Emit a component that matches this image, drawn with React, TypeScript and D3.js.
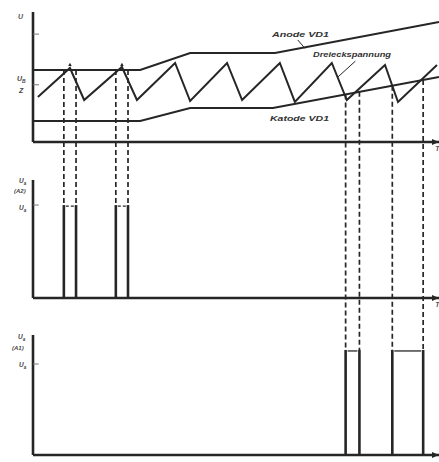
import React from "react";
import * as d3 from "d3";

// time in arbitrary units 0..100, voltage in arbitrary units 0..10
const waveT = [1.2, 9.1, 12.6, 21.9, 25.6, 35.0, 38.7, 47.8, 51.5, 60.8, 64.5, 73.6, 77.3, 86.7, 89.9, 99.5];
const waveU = [3.46, 5.69, 3.23, 5.77, 3.23, 6.08, 3.15, 6.08, 3.23, 6.08, 3.08, 6.08, 3.23, 5.92, 3.08, 5.92];

const anodeT = [0, 26.4, 38.7, 59.6, 100];
const anodeU = [5.54, 5.54, 6.85, 6.85, 9.23];
const cathodeT = [0, 26.4, 38.7, 59.1, 100];
const cathodeU = [1.62, 1.62, 2.62, 2.62, 5.0];

// pulse edges (A2) and (A1)
const pulsesA2 = [[7.6, 10.6], [20.4, 23.4]];
const pulsesA1 = [[77.0, 80.4], [88.5, 96.1]];
const pulseHighA2 = 7.15;
const pulseHighA1 = 8.08;

const W = 439, H = 462;
const INK = "#262626";

export default function App() {
  const x = d3.scaleLinear().domain([0, 100]).range([33, 439]);
  const yTop = d3.scaleLinear().domain([0, 10]).range([142, 12]);
  const yA2 = d3.scaleLinear().domain([0, 10]).range([298, 168]);
  const yA1 = d3.scaleLinear().domain([0, 10]).range([455, 325]);

  const line = d3.line<[number, number]>().x(d => x(d[0])).y(d => yTop(d[1]));
  const wave = line(waveT.map((t, i) => [t, waveU[i]] as [number, number]));
  const anode = line(anodeT.map((t, i) => [t, anodeU[i]] as [number, number]));
  const cathode = line(cathodeT.map((t, i) => [t, cathodeU[i]] as [number, number]));
  const anodeAt = d3.scaleLinear().domain(anodeT).range(anodeU);
  const cathodeAt = d3.scaleLinear().domain(cathodeT).range(cathodeU);

  const font = { fontFamily: "Liberation Sans, Arial, sans-serif", fontStyle: "italic" as const, fontWeight: 700 as const };

  const axis = (ys: d3.ScaleLinear<number, number>, top: number, key: string, label: boolean) => (
    <g key={key}>
      <line x1={x(0)} x2={x(0)} y1={ys(top)} y2={ys(0)} stroke={INK} strokeWidth={2.6} />
      <line x1={x(0)} x2={x(100)} y1={ys(0)} y2={ys(0)} stroke={INK} strokeWidth={2.3} />
      <path d={`M${x(100) - 7},${ys(0) - 3}L${x(100)},${ys(0)}L${x(100) - 7},${ys(0) + 3}Z`} fill={INK} />
      {label && <text x={x(99.1)} y={ys(0) + 9} fontSize={7} fill="#555" style={font}>T</text>}
    </g>
  );

  const pulsePanel = (pulses: number[][], ys: d3.ScaleLinear<number, number>, high: number, solidTop: boolean, key: string) => (
    <g key={key}>
      {pulses.map((p, i) => (
        <g key={i}>
          {p.map((t, j) => (
            <line key={j} x1={x(t)} x2={x(t)} y1={ys(high)} y2={ys(0)} stroke={INK} strokeWidth={2.6} />
          ))}
          <line x1={x(p[0]) + 2} x2={x(p[1]) - 2} y1={ys(high) + 1} y2={ys(high) + 1} stroke={INK}
            strokeWidth={1.3} strokeDasharray={solidTop ? undefined : "3,2"} />
        </g>
      ))}
    </g>
  );

  return (
    <svg width={W} height={H} style={{ position: "absolute", left: 0, top: 0, background: "#fff" }}>
      <rect width={W} height={H} fill="#fff" />
      {/* dashed projection lines */}
      {pulsesA2.flat().map((t, i) => (
        <line key={"da" + i} x1={x(t)} x2={x(t)} y1={yTop(anodeAt(t))} y2={yA2(pulseHighA2)}
          stroke={INK} strokeWidth={1.7} strokeDasharray="5,3" />
      ))}
      {pulsesA1.flat().map((t, i) => (
        <line key={"dc" + i} x1={x(t)} x2={x(t)} y1={yTop(cathodeAt(t))} y2={yA1(pulseHighA1)}
          stroke={INK} strokeWidth={1.7} strokeDasharray="5,3" />
      ))}

      {/* top panel */}
      {axis(yTop, 10, "ax1", true)}
      <path d={anode ?? ""} fill="none" stroke={INK} strokeWidth={2.1} />
      <path d={cathode ?? ""} fill="none" stroke={INK} strokeWidth={2.1} />
      <path d={wave ?? ""} fill="none" stroke={INK} strokeWidth={2} strokeLinejoin="miter" />
      <line x1={x(0)} x2={x(1.5)} y1={yTop(8.3)} y2={yTop(8.3)} stroke="#777" strokeWidth={1} />
      <line x1={x(0)} x2={x(1.5)} y1={yTop(4.4)} y2={yTop(4.4)} stroke="#777" strokeWidth={1} />
      {[waveT[1], waveT[3]].map((t, i) => (
        <path key={i} d={`M${x(t) - 1.8},${yTop(5.85)}L${x(t)},${yTop(6.1)}L${x(t) + 1.8},${yTop(5.85)}Z`} fill={INK} />
      ))}
      <text x={18} y={19} fontSize={7} fill="#555" style={font}>U</text>
      <text x={17} y={81} fontSize={7} fill="#444" style={font}>U<tspan fontSize={5} dy={1.5}>B</tspan></text>
      <text x={19} y={93} fontSize={7} fill="#444" style={font}>Z</text>

      {/* annotations */}
      <text x={272} y={37} fontSize={8} fill="#333" style={font} textLength={57} lengthAdjust="spacingAndGlyphs">Anode VD1</text>
      <line x1={x(65.2)} x2={x(67.0)} y1={yTop(7.85)} y2={yTop(7.2)} stroke={INK} strokeWidth={1} />
      <text x={313} y={57} fontSize={7.5} fill="#333" style={font} textLength={78} lengthAdjust="spacingAndGlyphs">Dreieckspannung</text>
      <line x1={x(79.4)} x2={x(75.1)} y1={yTop(6.22)} y2={yTop(5.0)} stroke={INK} strokeWidth={1} />
      <text x={270} y={121} fontSize={8} fill="#333" style={font} textLength={59} lengthAdjust="spacingAndGlyphs">Katode VD1</text>

      {/* panel (A2) */}
      {axis(yA2, 9.08, "ax2", true)}
      {pulsePanel(pulsesA2, yA2, pulseHighA2, false, "p2")}
      <text x={19} y={183} fontSize={6.5} fill="#444" style={font}>U<tspan fontSize={4.5} dy={1.5}>a</tspan></text>
      <text x={14} y={193} fontSize={6} fill="#444" style={font}>(A2)</text>
      <text x={19} y={210} fontSize={6.5} fill="#444" style={font}>U<tspan fontSize={4.5} dy={1.5}>a</tspan></text>
      <line x1={x(0)} x2={x(1.4)} y1={yA2(pulseHighA2)} y2={yA2(pulseHighA2)} stroke="#777" strokeWidth={1} />

      {/* panel (A1) */}
      {axis(yA1, 9.23, "ax3", false)}
      {pulsePanel(pulsesA1, yA1, pulseHighA1, true, "p3")}
      <text x={18} y={339} fontSize={6.5} fill="#444" style={font}>U<tspan fontSize={4.5} dy={1.5}>a</tspan></text>
      <text x={12} y={350} fontSize={6} fill="#444" style={font}>(A1)</text>
      <text x={19} y={367} fontSize={6.5} fill="#444" style={font}>U<tspan fontSize={4.5} dy={1.5}>a</tspan></text>
      <line x1={x(0)} x2={x(1.4)} y1={yA1(7.0)} y2={yA1(7.0)} stroke="#777" strokeWidth={1} />
    </svg>
  );
}
